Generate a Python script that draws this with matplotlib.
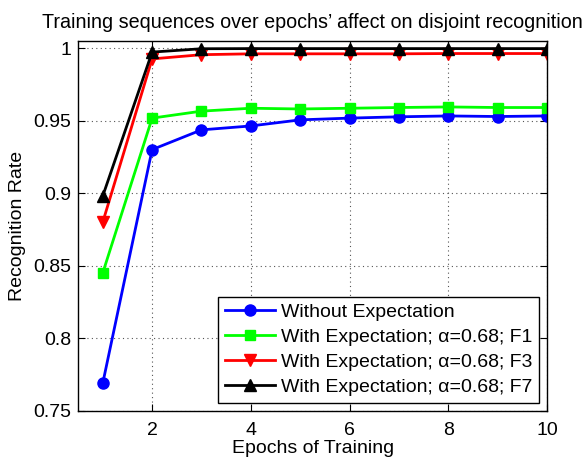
import matplotlib
matplotlib.use("Agg")
import matplotlib.pyplot as plt

plt.rcParams['font.family'] = ['Liberation Sans', 'DejaVu Sans']

epochs = [1, 2, 3, 4, 5, 6, 7, 8, 9, 10]
without_exp = [0.769, 0.930, 0.9436, 0.9463, 0.9505, 0.9517, 0.9526, 0.9532, 0.9528, 0.9532]
with_f1 = [0.845, 0.9517, 0.9565, 0.9585, 0.958, 0.9585, 0.959, 0.9594, 0.959, 0.959]
with_f3 = [0.880, 0.9925, 0.9954, 0.996, 0.996, 0.996, 0.996, 0.9962, 0.9962, 0.9962]
with_f7 = [0.898, 0.9972, 0.9995, 0.9996, 0.9996, 0.9996, 0.9996, 0.9996, 0.9996, 0.9996]

labels = ["Without Expectation",
          "With Expectation; α=0.68; F1",
          "With Expectation; α=0.68; F3",
          "With Expectation; α=0.68; F7"]
x_ticks = [2, 4, 6, 8, 10]
y_ticks = [0.75, 0.8, 0.85, 0.9, 0.95, 1.0]
y_ticklabels = ["0.75", "0.8", "0.85", "0.9", "0.95", "1"]

fig = plt.figure(figsize=(5.87, 4.58), dpi=100)
ax = fig.add_axes([0.133, 0.103, 0.799, 0.808])

ax.plot(epochs, without_exp, '-o', color='#0000ff', lw=2.0, ms=8, label=labels[0])
ax.plot(epochs, with_f1, '-s', color='#00ff00', lw=2.0, ms=7.5, label=labels[1])
ax.plot(epochs, with_f3, '-v', color='#ff0000', lw=2.0, ms=9, label=labels[2])
ax.plot(epochs, with_f7, '-^', color='#000000', lw=2.0, ms=9, label=labels[3])

ax.set_xlim(0.5, 10)
ax.set_ylim(0.75, 1.005)
ax.set_xticks(x_ticks)
ax.set_yticks(y_ticks)
ax.set_yticklabels(y_ticklabels)
ax.tick_params(direction='in', top=True, right=True, labelsize=14, length=5)
ax.tick_params(axis='x', pad=8)
ax.tick_params(axis='y', pad=5)
ax.grid(True, linestyle=(0, (1, 3)), color='#555555', lw=0.8)
for s in ax.spines.values():
    s.set_linewidth(1.0)

ax.set_title("Training sequences over epochs’ affect on disjoint recognition", fontsize=14.2, pad=9)
ax.set_xlabel("Epochs of Training", fontsize=14, labelpad=1)
ax.set_ylabel("Recognition Rate", fontsize=14, labelpad=5)

leg = ax.legend(loc='lower right', fontsize=14, frameon=True, fancybox=False,
                edgecolor='black', framealpha=1, handlelength=2.6,
                handletextpad=0.3, labelspacing=0.38, borderpad=0.35,
                borderaxespad=0.4)
leg.get_frame().set_linewidth(1.0)

plt.savefig("out.png", dpi=100)
